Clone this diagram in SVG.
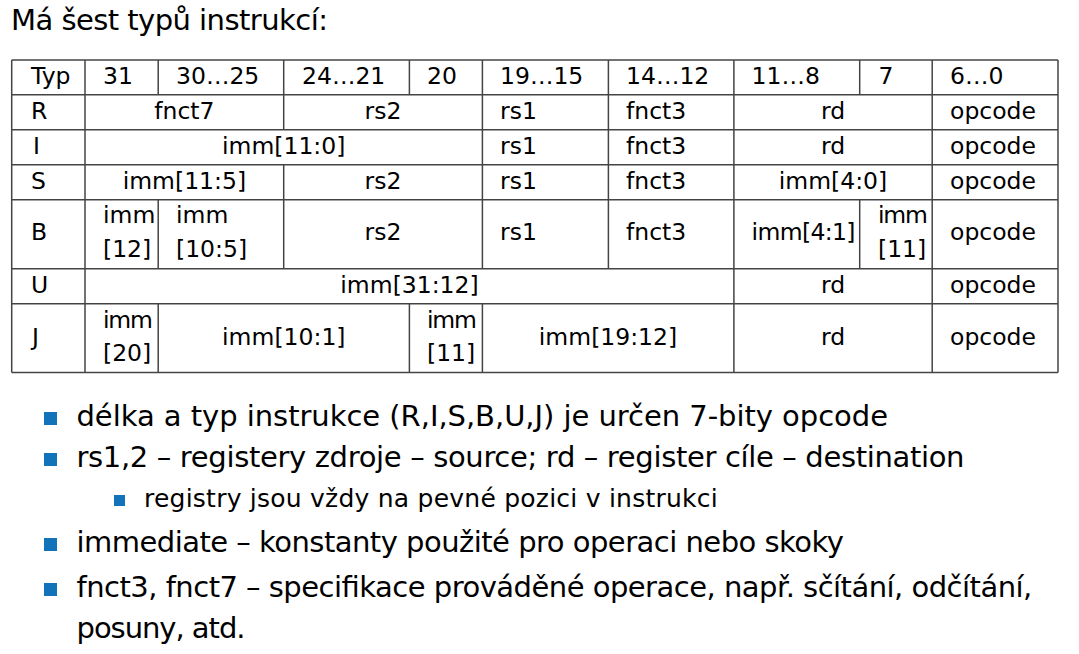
<svg xmlns="http://www.w3.org/2000/svg" width="1079" height="654" viewBox="0 0 1079 654">
<style>
text{font-family:"DejaVu Sans","Liberation Sans",sans-serif;fill:#000}
.t{font-size:23.5px}
.m{text-anchor:middle}
.b{font-size:29px}
.s{font-size:25px}
.g line{stroke:#444;stroke-width:1.5}
.bul{fill:#1273BA}
</style>
<rect width="1079" height="654" fill="#fff"/>
<text x="11" y="30" font-size="29" textLength="317">Má šest typů instrukcí:</text>
<g id="grid" class="g">
<line x1="11.7" y1="60" x2="1058" y2="60"/>
<line x1="11.7" y1="94.7" x2="1058" y2="94.7"/>
<line x1="11.7" y1="129.7" x2="1058" y2="129.7"/>
<line x1="11.7" y1="164.7" x2="1058" y2="164.7"/>
<line x1="11.7" y1="199.7" x2="1058" y2="199.7"/>
<line x1="11.7" y1="268.7" x2="1058" y2="268.7"/>
<line x1="11.7" y1="303.7" x2="1058" y2="303.7"/>
<line x1="11.7" y1="372.4" x2="1058" y2="372.4"/>
<line x1="11.7" y1="60" x2="11.7" y2="372.4"/>
<line x1="1058" y1="60" x2="1058" y2="372.4"/>
<line x1="85" y1="60" x2="85" y2="372.4"/>
<line x1="158.2" y1="60" x2="158.2" y2="94.7"/>
<line x1="158.2" y1="199.7" x2="158.2" y2="268.7"/>
<line x1="158.2" y1="303.7" x2="158.2" y2="372.4"/>
<line x1="283.7" y1="60" x2="283.7" y2="129.7"/>
<line x1="283.7" y1="164.7" x2="283.7" y2="268.7"/>
<line x1="409.4" y1="60" x2="409.4" y2="94.7"/>
<line x1="409.4" y1="303.7" x2="409.4" y2="372.4"/>
<line x1="482.4" y1="60" x2="482.4" y2="268.7"/>
<line x1="482.4" y1="303.7" x2="482.4" y2="372.4"/>
<line x1="608.4" y1="60" x2="608.4" y2="268.7"/>
<line x1="733.9" y1="60" x2="733.9" y2="372.4"/>
<line x1="859.7" y1="60" x2="859.7" y2="94.7"/>
<line x1="859.7" y1="199.7" x2="859.7" y2="268.7"/>
<line x1="932.2" y1="60" x2="932.2" y2="372.4"/>
</g>
<g id="header" class="t">
<text x="31" y="84">Typ</text>
<text x="103" y="84">31</text>
<text x="176" y="84">30…25</text>
<text x="302" y="84">24…21</text>
<text x="427" y="84">20</text>
<text x="500" y="84">19…15</text>
<text x="626" y="84">14…12</text>
<text x="751.5" y="84">11…8</text>
<text x="878.5" y="84">7</text>
<text x="950" y="84">6…0</text>
</g>
<g id="rowR" class="t">
<text x="31" y="119">R</text>
<text class="m" x="184.4" y="119">fnct7</text>
<text class="m" x="383" y="119">rs2</text>
<text x="500" y="119">rs1</text>
<text x="626" y="119">fnct3</text>
<text class="m" x="833" y="119">rd</text>
<text x="950" y="119">opcode</text>
</g>
<g id="rowI" class="t">
<text x="33" y="154">I</text>
<text class="m" x="283.7" y="154">imm[11:0]</text>
<text x="500" y="154">rs1</text>
<text x="626" y="154">fnct3</text>
<text class="m" x="833" y="154">rd</text>
<text x="950" y="154">opcode</text>
</g>
<g id="rowS" class="t">
<text x="31" y="189">S</text>
<text class="m" x="184.4" y="189">imm[11:5]</text>
<text class="m" x="383" y="189">rs2</text>
<text x="500" y="189">rs1</text>
<text x="626" y="189">fnct3</text>
<text class="m" x="833" y="189">imm[4:0]</text>
<text x="950" y="189">opcode</text>
</g>
<g id="rowB" class="t">
<text x="31" y="240">B</text>
<text x="103" y="223.3">imm</text>
<text x="103" y="257">[12]</text>
<text x="176" y="223.3">imm</text>
<text x="176" y="257">[10:5]</text>
<text class="m" x="383" y="240">rs2</text>
<text x="500" y="240">rs1</text>
<text x="626" y="240">fnct3</text>
<text x="751.5" y="240" textLength="104">imm[4:1]</text>
<text x="878" y="223.3" textLength="50">imm</text>
<text x="878" y="257">[11]</text>
<text x="950" y="240">opcode</text>
</g>
<g id="rowU" class="t">
<text x="31" y="292.7">U</text>
<text class="m" x="409.5" y="292.7">imm[31:12]</text>
<text class="m" x="833" y="292.7">rd</text>
<text x="950" y="292.7">opcode</text>
</g>
<g id="rowJ" class="t">
<text x="32" y="345">J</text>
<text x="103" y="327.7" textLength="50">imm</text>
<text x="103" y="361">[20]</text>
<text class="m" x="283.8" y="345">imm[10:1]</text>
<text x="427" y="327.7" textLength="50">imm</text>
<text x="427" y="361">[11]</text>
<text class="m" x="608" y="345">imm[19:12]</text>
<text class="m" x="833" y="345">rd</text>
<text x="950" y="345">opcode</text>
</g>
<g id="bullets">
<rect class="bul" x="44" y="412" width="13" height="13"/>
<text class="b" x="76.5" y="426" textLength="811.5">délka a typ instrukce (R,I,S,B,U,J) je určen 7-bity opcode</text>
<rect class="bul" x="44" y="453" width="13" height="13"/>
<text class="b" x="76.5" y="467" textLength="888">rs1,2 – registery zdroje – source; rd – register cíle – destination</text>
<rect class="bul" x="114" y="495" width="11" height="11"/>
<text class="s" x="144" y="506.7" textLength="573.7">registry jsou vždy na pevné pozici v instrukci</text>
<rect class="bul" x="44" y="538" width="13" height="13"/>
<text class="b" x="76.5" y="552.3" textLength="767.4">immediate – konstanty použité pro operaci nebo skoky</text>
<rect class="bul" x="44" y="583" width="13" height="13"/>
<text class="b" x="76.5" y="596.7" textLength="955.8">fnct3, fnct7 – specifikace prováděné operace, např. sčítání, odčítání,</text>
<text class="b" x="76.5" y="638.3" textLength="169">posuny, atd.</text>
</g>
</svg>
